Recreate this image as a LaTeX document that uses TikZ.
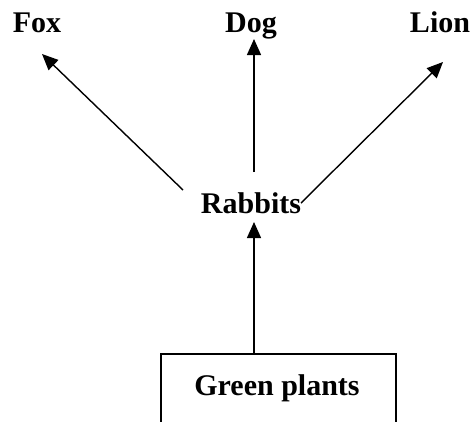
\documentclass[tikz,border=0pt]{standalone}
\usepackage{fontspec}
\setmainfont{Liberation Serif}
\usetikzlibrary{arrows.meta}
\begin{document}
\begin{tikzpicture}[x=1pt,y=-1pt,
  lbl/.style={font=\fontsize{30}{33}\selectfont\bfseries, inner sep=0pt, anchor=base},
  arr/.style={line width=1.4pt, -{Triangle[length=16pt,width=14pt]}},
  boxline/.style={line width=1.4pt}]
\useasboundingbox (0,0) rectangle (476,421);
\node[lbl] (fox) at (37,32) {Fox};
\node[lbl] (dog) at (251,32) {Dog};
\node[lbl] (lion) at (440,32) {Lion};
\node[lbl] (rab) at (251,213) {Rabbits};
\node[lbl] (plants) at (277,395) {Green plants};
\coordinate (foxtail) at (183,190);
\coordinate (foxtip) at (42,54);
\coordinate (dogtail) at (254,172);
\coordinate (dogtip) at (254,39);
\coordinate (liontail) at (301,203);
\coordinate (liontip) at (443,62);
\coordinate (rabtip) at (254,222);
\coordinate (boxtop) at (254,354);
\draw[arr] (foxtail) -- (foxtip);
\draw[arr] (dogtail) -- (dogtip);
\draw[arr] (liontail) -- (liontip);
\draw[arr] (boxtop) -- (rabtip);
\draw[boxline] (161,425) -- (161,354) -- (396,354) -- (396,425);
\end{tikzpicture}
\end{document}
